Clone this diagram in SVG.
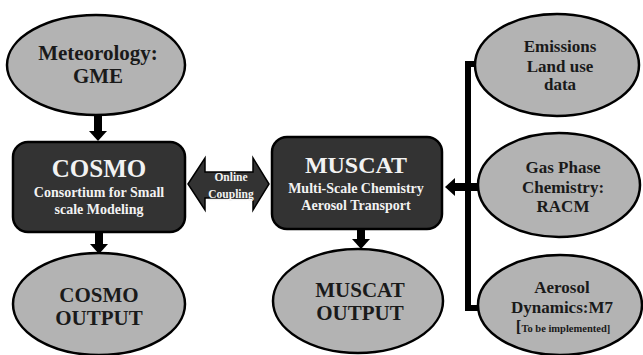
<svg xmlns="http://www.w3.org/2000/svg" width="643" height="355" viewBox="0 0 643 355">
<style>
.ell{fill:#b3b3b3;stroke:#000;stroke-width:2.5}
.box{fill:#333333;stroke:#000;stroke-width:2.5}
.t{font-family:"Liberation Serif","Times New Roman",serif;font-weight:bold;text-anchor:middle;fill:#1a1a1a}
.w{font-family:"Liberation Serif","Times New Roman",serif;font-weight:bold;text-anchor:middle;fill:#f2f2f2}
.c{stroke:#000;stroke-width:8;fill:none}
.bus{stroke:#000;stroke-width:6;fill:none}
</style>
<defs>
<marker id="ah" viewBox="0 0 10 18" markerWidth="10" markerHeight="18" refX="0" refY="9" orient="auto" markerUnits="userSpaceOnUse">
<path d="M0,0 L10,9 L0,18 Z" fill="#000"/>
</marker>
</defs>
<g id="connectors">
<line class="c" x1="98" y1="115" x2="98" y2="131" marker-end="url(#ah)"/>
<line class="c" x1="99" y1="232" x2="99" y2="244" marker-end="url(#ah)"/>
<line class="c" x1="361" y1="228" x2="361" y2="239" marker-end="url(#ah)"/>
<path class="bus" d="M477,64 H468 V308 H478"/>
<line class="c" x1="480" y1="187" x2="455" y2="187" marker-end="url(#ah)"/>
</g>
<g id="coupling">
<path d="M188,184 L205,158 L205,172 L253,172 L253,158 L269,184 L253,210 L253,198 L205,198 L205,210 Z" fill="#333333" stroke="#000" stroke-width="1.5"/>
<text class="w" x="231" y="181" font-size="11.5">Online</text>
<text class="w" x="231" y="198" font-size="11.5" text-decoration="underline">Coupling</text>
</g>
<g id="meteorology">
<ellipse class="ell" cx="96" cy="65" rx="89" ry="50"/>
<text class="t" x="98" y="60" font-size="21">Meteorology:</text>
<text class="t" x="98" y="83" font-size="21">GME</text>
</g>
<g id="cosmo">
<rect class="box" x="13" y="142" width="172" height="90" rx="15"/>
<text class="w" x="99" y="177" font-size="25">COSMO</text>
<text class="w" x="99" y="197" font-size="14">Consortium for Small</text>
<text class="w" x="99" y="214" font-size="14">scale Modeling</text>
</g>
<g id="cosmo-output">
<ellipse class="ell" cx="99" cy="304" rx="86" ry="51"/>
<text class="t" x="99" y="302" font-size="21">COSMO</text>
<text class="t" x="99" y="325" font-size="21">OUTPUT</text>
</g>
<g id="muscat">
<rect class="box" x="272" y="137" width="170" height="92" rx="15"/>
<text class="w" x="356" y="173" font-size="24">MUSCAT</text>
<text class="w" x="356" y="193" font-size="14">Multi-Scale Chemistry</text>
<text class="w" x="356" y="210" font-size="14">Aerosol Transport</text>
</g>
<g id="muscat-output">
<ellipse class="ell" cx="358" cy="301" rx="85" ry="52"/>
<text class="t" x="360" y="297" font-size="21">MUSCAT</text>
<text class="t" x="360" y="320" font-size="21">OUTPUT</text>
</g>
<g id="emissions">
<ellipse class="ell" cx="557" cy="65" rx="82" ry="51"/>
<text class="t" x="560" y="52" font-size="17">Emissions</text>
<text class="t" x="560" y="72" font-size="17">Land use</text>
<text class="t" x="560" y="90" font-size="17">data</text>
</g>
<g id="gas-phase">
<ellipse class="ell" cx="559" cy="185" rx="81" ry="52"/>
<text class="t" x="563" y="173" font-size="17">Gas Phase</text>
<text class="t" x="563" y="193" font-size="17">Chemistry:</text>
<text class="t" x="563" y="212" font-size="17">RACM</text>
</g>
<g id="aerosol">
<ellipse class="ell" cx="560" cy="305" rx="82" ry="50"/>
<text class="t" x="562" y="293" font-size="17">Aerosol</text>
<text class="t" x="562" y="313" font-size="17">Dynamics:M7</text>
<text class="t" x="563" y="332" font-size="10.5"><tspan font-size="17">[</tspan>To be implemented]</text>
</g>
</svg>
